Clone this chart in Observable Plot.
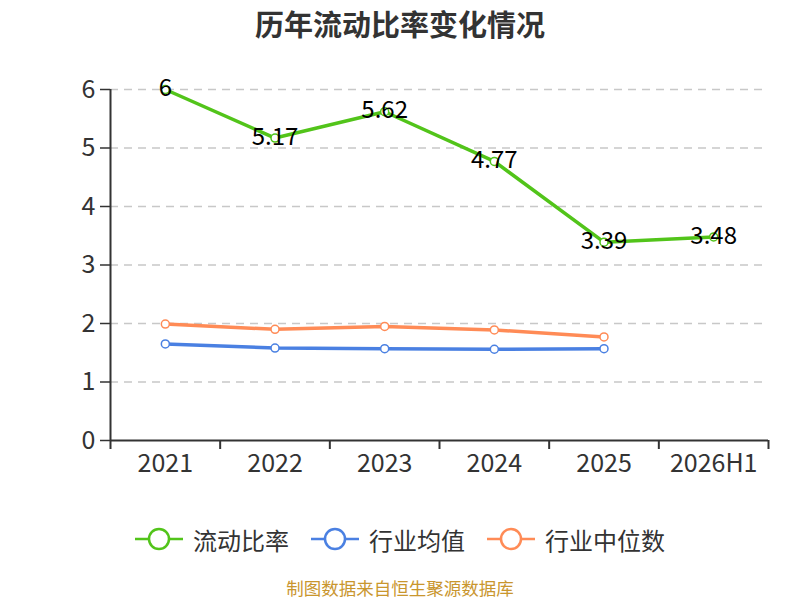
<!DOCTYPE html>
<html><head><meta charset="utf-8">
<script src="https://cdn.jsdelivr.net/npm/d3@7"></script>
<script src="https://cdn.jsdelivr.net/npm/@observablehq/plot@0.6"></script>
<style>
body{margin:0;background:#fff;font-family:"Noto Sans CJK SC","Noto Sans",sans-serif;width:800px;height:600px;overflow:hidden;position:relative}
#title{position:absolute;top:0;left:0;width:800px;height:46px;line-height:46px;text-align:center;font-size:29px;font-weight:bold;color:#333}
#chart{position:absolute;top:50px;left:0}
#legend{position:absolute;top:523px;left:0;width:800px;height:32px;display:flex;justify-content:center;align-items:center;font-size:24px;color:#333}
.item{display:flex;align-items:center;margin:0 11px}
.item svg{margin-right:10px}
#caption{position:absolute;top:575px;left:0;width:800px;text-align:center;font-size:17.5px;line-height:normal;color:#c9962e}
</style></head><body>
<div id="title">历年流动比率变化情况</div>
<div id="chart"></div>
<div id="legend"></div>
<div id="caption">制图数据来自恒生聚源数据库</div>
<script>
const years = ["2021","2022","2023","2024","2025","2026H1"];
const ratio = [6, 5.17, 5.62, 4.77, 3.39, 3.48];
const industryMean = [1.65, 1.58, 1.57, 1.56, 1.57];
const industryMedian = [1.99, 1.90, 1.95, 1.89, 1.77];
const yTicks = [0, 1, 2, 3, 4, 5, 6];
const seriesNames = ["流动比率", "行业均值", "行业中位数"];
const colors = ["#52c41a", "#4a80e2", "#ff8b56"];

const toRows = arr => arr.map((v, i) => ({i, v}));
const rRatio = toRows(ratio), rMean = toRows(industryMean), rMedian = toRows(industryMedian);
const centers = years.map((_, i) => i);
const bounds = [...years.map((_, i) => i - 0.5), years.length - 0.5];

const chart = Plot.plot({
  width: 800, height: 440,
  marginLeft: 110, marginRight: 32, marginTop: 39, marginBottom: 50,
  style: {fontFamily: '"Noto Sans CJK SC","Noto Sans",sans-serif', color: "#333", background: "transparent"},
  x: {type: "linear", domain: [-0.5, years.length - 0.5]},
  y: {domain: [0, 6]},
  marks: [
    Plot.ruleY(yTicks.filter(t => t > 0), {stroke: "#c8c8c8", strokeDasharray: "8,6", strokeWidth: 1.5}),
    Plot.axisY({ticks: yTicks, tickSize: 10, tickPadding: 5, fontSize: 25, label: null, strokeWidth: 1.5, tickFormat: d => String(d)}),
    Plot.ruleX([-0.5], {y1: 0, y2: 6, stroke: "#333", strokeWidth: 2}),
    Plot.ruleY([0], {stroke: "#333", strokeWidth: 2}),
    Plot.axisX({ticks: bounds, tickSize: 9, strokeWidth: 2, tickFormat: () => "", label: null}),
    Plot.axisX({ticks: centers, tickSize: 0, tickPadding: 14, fontSize: 25, label: null, tickFormat: i => years[i]}),
    Plot.line(rMedian, {x: "i", y: "v", stroke: colors[2], strokeWidth: 3.5}),
    Plot.dot(rMedian, {x: "i", y: "v", r: 4, fill: "white", stroke: colors[2], strokeWidth: 1.5}),
    Plot.line(rMean, {x: "i", y: "v", stroke: colors[1], strokeWidth: 3.5}),
    Plot.dot(rMean, {x: "i", y: "v", r: 4, fill: "white", stroke: colors[1], strokeWidth: 1.5}),
    Plot.line(rRatio, {x: "i", y: "v", stroke: colors[0], strokeWidth: 3.5}),
    Plot.dot(rRatio, {x: "i", y: "v", r: 4, fill: "white", stroke: colors[0], strokeWidth: 1.5}),
    Plot.text(rRatio, {x: "i", y: "v", dy: -1, text: d => String(d.v), fontSize: 24, fill: "#000"})
  ]
});
document.getElementById("chart").appendChild(chart);

const legend = document.getElementById("legend");
seriesNames.forEach((name, k) => {
  const item = document.createElement("div");
  item.className = "item";
  item.innerHTML = `<svg width="48" height="24"><line x1="0" y1="12" x2="48" y2="12" stroke="${colors[k]}" stroke-width="2.5"/><circle cx="24" cy="12" r="10" fill="white" stroke="${colors[k]}" stroke-width="2.5"/></svg><span>${name}</span>`;
  legend.appendChild(item);
});
</script>
</body></html>
